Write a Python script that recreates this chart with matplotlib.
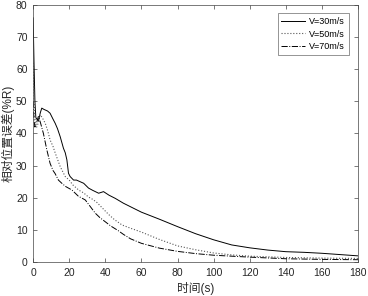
import numpy as np
import matplotlib
matplotlib.use('Agg')
import matplotlib.pyplot as plt

plt.rcParams['font.family'] = ['Liberation Sans', 'Noto Sans CJK SC', 'DejaVu Sans']

# V=30m/s
t30 = [0, 0.5, 1, 1.5, 2, 3, 4, 4.8, 6, 8, 9.4, 11, 12.2, 13.5, 15, 16, 16.8, 17.8, 18.7, 19.6,
       20.5, 22.4, 24, 26, 28, 30.7, 33, 36.3, 39, 42, 45.5, 50, 55.7, 60, 70, 80, 90, 100, 110,
       120, 130, 140, 150, 160, 170, 180]
v30 = [76, 62, 50, 45, 44.5, 44, 46.5, 47.9, 47.5, 47, 46.3, 44.5, 43.2, 41.5, 39, 37, 35.4, 34, 31.8, 27.6,
       26.6, 25.5, 25.5, 25, 24.5, 23, 22.3, 21.4, 21.9, 20.8, 19.8, 18.3, 16.7, 15.5, 13.3, 11, 8.8, 6.9, 5.3,
       4.4, 3.7, 3.2, 3.0, 2.7, 2.3, 1.9]

# V=50m/s
t50 = [0, 0.5, 1, 1.5, 2, 3, 3.9, 5, 6.7, 8, 9.4, 11, 12.2, 13.5, 15, 16.5, 17.8, 20, 22, 25.2,
       28, 30.7, 33, 35.4, 38, 41.8, 45, 49.3, 54, 60, 70, 80, 90, 100, 110, 120, 140, 160, 180]
v50 = [62, 52, 45, 42, 42, 43.5, 45.8, 45, 43.2, 41, 38, 36, 34, 32, 29.7, 28, 26.6, 25.5, 24, 22.4,
       21.5, 20.2, 19.5, 18.5, 17, 14.8, 13.2, 11.5, 10.5, 9.3, 7, 5, 3.8, 2.8, 2.2, 1.8, 1.4, 1.2, 1.1]

# V=70m/s
t70 = [0, 0.5, 1, 2, 2.9, 4, 5.7, 7.6, 9.4, 11, 12.2, 14, 15.9, 18, 21.5, 25, 28.9, 32, 34.4,
       37, 40, 43, 47, 50, 54, 60, 70, 80, 90, 100, 120, 140, 160, 180]
v70 = [50, 44, 42, 43.5, 45.3, 43.5, 40, 34.9, 30.7, 28.5, 27.5, 25.5, 24.5, 23.5, 22.4, 20.5, 19.3, 17, 15.2,
       13.8, 12.5, 11.2, 9.8, 8.6, 7.2, 5.8, 4.3, 3.3, 2.6, 2.1, 1.5, 1.0, 0.8, 0.7]

fig = plt.figure(figsize=(3.68, 2.96), dpi=100)
ax = fig.add_axes([0.09, 0.115, 0.883, 0.868])

ax.plot(t30, v30, color='black', linestyle='-', linewidth=0.7, label='V=30m/s')
ax.plot(t50, v50, color='#555555', linestyle=':', linewidth=0.8, label='V=50m/s')
ax.plot(t70, v70, color='black', linestyle='-.', linewidth=0.7, label='V=70m/s')

ax.set_xlim(0, 180)
ax.set_ylim(0, 80)
ax.set_xticks(np.arange(0, 181, 20))
ax.set_yticks(np.arange(0, 81, 10))
ax.tick_params(direction='in', top=True, right=True, labelsize=7.5, length=3,
               width=0.5, color='#444444', labelcolor='#262626', pad=4)
for s in ax.spines.values():
    s.set_linewidth(0.5)
    s.set_color('#444444')

ax.set_xlabel('时间(s)', fontsize=8.5, labelpad=3, color='#262626')
ax.set_ylabel('相对位置误差(%R)', fontsize=8.5, labelpad=1, color='#262626')

leg = ax.legend(loc='upper right', fontsize=6.5, frameon=True, fancybox=False,
                edgecolor='#444444', handlelength=2.6, borderpad=0.4,
                labelspacing=0.4, handletextpad=0.5, bbox_to_anchor=(0.985, 0.985))
leg.get_frame().set_linewidth(0.5)

fig.savefig('out.png', dpi=100)
